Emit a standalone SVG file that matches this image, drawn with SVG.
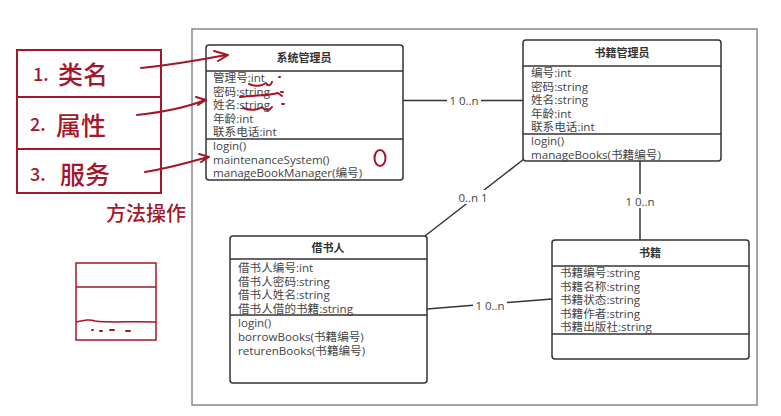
<svg xmlns="http://www.w3.org/2000/svg" width="781" height="416" viewBox="0 0 781 416">
<style>
.box{fill:#fff;stroke:#333;stroke-width:1.5}
.sep{stroke:#333;stroke-width:1.5}
.t{font-family:"Open Sans","Noto Sans CJK SC",sans-serif;font-size:11.6px;fill:#444}
.h{font-family:"Open Sans","Noto Sans CJK SC",sans-serif;font-size:11px;font-weight:bold;fill:#333;text-anchor:middle}
.c{stroke:#333;stroke-width:1.5;fill:none}
.lbl{font-family:"Open Sans","Noto Sans CJK SC",sans-serif;font-size:11.5px;fill:#444;text-anchor:middle}
.lbg{fill:#fff}
.red{stroke:#a3172b;stroke-width:2;fill:none;stroke-linecap:round;stroke-linejoin:round}
.hand{font-family:"Noto Sans CJK SC",sans-serif;fill:#a3172b;font-weight:500}
</style>
<rect width="781" height="416" fill="#fff"/>
<rect x="192" y="29" width="565" height="376" fill="none" stroke="#888" stroke-width="1.5"/>

<g id="connectors">
<line class="c" x1="403" y1="100.5" x2="523" y2="100.5"/>
<rect class="lbg" x="447" y="93" width="34" height="14"/>
<text class="lbl" x="464" y="105">1 0..n</text>
<line class="c" x1="640" y1="161" x2="640" y2="240"/>
<rect class="lbg" x="623" y="194" width="34" height="14"/>
<text class="lbl" x="640" y="205.5">1 0..n</text>
<line class="c" x1="524" y1="159" x2="425" y2="236"/>
<rect class="lbg" x="456" y="190" width="34" height="14"/>
<text class="lbl" x="473" y="201.5">0..n 1</text>
<line class="c" x1="427" y1="309" x2="552" y2="299"/>
<rect class="lbg" x="473" y="298" width="34" height="14"/>
<text class="lbl" x="490" y="309.5">1 0..n</text>
</g>

<g id="sysadmin">
<rect class="box" x="206" y="45" width="197" height="135" rx="3"/>
<line class="sep" x1="206" y1="71" x2="403" y2="71"/>
<line class="sep" x1="206" y1="139" x2="403" y2="139"/>
<text class="h" x="304" y="62">系统管理员</text>
<text class="t" x="213" y="82">管理号:int</text>
<text class="t" x="213" y="95.5">密码:string</text>
<text class="t" x="213" y="109">姓名:string</text>
<text class="t" x="213" y="122.5">年龄:int</text>
<text class="t" x="213" y="136">联系电话:int</text>
<text class="t" x="213" y="150">login()</text>
<text class="t" x="213" y="163.5">maintenanceSystem()</text>
<text class="t" x="213" y="177">manageBookManager(编号)</text>
</g>

<g id="bookadmin">
<rect class="box" x="523" y="40" width="198" height="121" rx="3"/>
<line class="sep" x1="523" y1="66" x2="721" y2="66"/>
<line class="sep" x1="523" y1="134" x2="721" y2="134"/>
<text class="h" x="622" y="57">书籍管理员</text>
<text class="t" x="531" y="77">编号:int</text>
<text class="t" x="531" y="90.5">密码:string</text>
<text class="t" x="531" y="104">姓名:string</text>
<text class="t" x="531" y="117.5">年龄:int</text>
<text class="t" x="531" y="131">联系电话:int</text>
<text class="t" x="531" y="145">login()</text>
<text class="t" x="531" y="158.5">manageBooks(书籍编号)</text>
</g>

<g id="borrower">
<rect class="box" x="230" y="236" width="197" height="147" rx="3"/>
<line class="sep" x1="230" y1="259" x2="427" y2="259"/>
<line class="sep" x1="230" y1="315" x2="427" y2="315"/>
<text class="h" x="328" y="252">借书人</text>
<text class="t" x="238" y="272">借书人编号:int</text>
<text class="t" x="238" y="285.5">借书人密码:string</text>
<text class="t" x="238" y="299">借书人姓名:string</text>
<text class="t" x="238" y="313">借书人借的书籍:string</text>
<text class="t" x="238" y="327">login()</text>
<text class="t" x="238" y="341">borrowBooks(书籍编号)</text>
<text class="t" x="238" y="355">returenBooks(书籍编号)</text>
</g>

<g id="book">
<rect class="box" x="552" y="240" width="197" height="119" rx="3"/>
<line class="sep" x1="552" y1="266" x2="749" y2="266"/>
<line class="sep" x1="552" y1="334" x2="749" y2="334"/>
<text class="h" x="650" y="257">书籍</text>
<text class="t" x="560" y="277">书籍编号:string</text>
<text class="t" x="560" y="290.5">书籍名称:string</text>
<text class="t" x="560" y="304">书籍状态:string</text>
<text class="t" x="560" y="317.5">书籍作者:string</text>
<text class="t" x="560" y="331">书籍出版社:string</text>
</g>

<g id="annotations">
<rect x="17" y="50" width="144" height="143" fill="none" stroke="#a3172b" stroke-width="2"/>
<line x1="17" y1="97" x2="161" y2="97" stroke="#a3172b" stroke-width="2"/>
<line x1="17" y1="149" x2="161" y2="149" stroke="#a3172b" stroke-width="2"/>
<text class="hand" x="33" y="81" font-size="18">1.</text>
<text class="hand" x="58" y="84" font-size="25">类名</text>
<text class="hand" x="30" y="131" font-size="18">2.</text>
<text class="hand" x="56" y="135" font-size="25">属性</text>
<text class="hand" x="30" y="181" font-size="18">3.</text>
<text class="hand" x="60" y="184" font-size="25">服务</text>
<text class="hand" x="106" y="221" font-size="20">方法操作</text>
<path class="red" d="M141 68 C170 65 200 60 226 55 M214 51 L228 55 L218 61"/>
<path class="red" d="M137 115 C165 112 190 106 205 100 M196 97 L206 100 L198 105"/>
<path class="red" d="M145 172 C170 168 190 162 208 157 M199 154 L209 157 L201 162"/>
<path class="red" d="M249 84 C255 87 262 86 266 83 C268 87 271 85 272 82"/>
<path class="red" d="M279 77 L280 77"/>
<path class="red" d="M240 97 C255 95 268 96 278 93 L282 96"/>
<path class="red" d="M281 92 L283 92"/>
<path class="red" d="M243 108 C250 111 258 110 262 107 C266 112 270 110 272 107"/>
<path class="red" d="M282 104 L284 104"/>
<ellipse cx="380" cy="158" rx="5.5" ry="8" class="red"/>
<rect x="76" y="263" width="80" height="77" fill="none" stroke="#a3172b" stroke-width="1.5"/>
<line x1="76" y1="287" x2="156" y2="287" stroke="#a3172b" stroke-width="1.5"/>
<path d="M76 322 C85 320 90 319 95 321 C110 323 130 321 156 322" fill="none" stroke="#a3172b" stroke-width="1.5"/>
<path d="M92 330 L93 330 M100 331 L102 331 M110 330 L114 330 M126 331 L130 331" class="red" stroke-width="1.5"/>
</g>
</svg>
